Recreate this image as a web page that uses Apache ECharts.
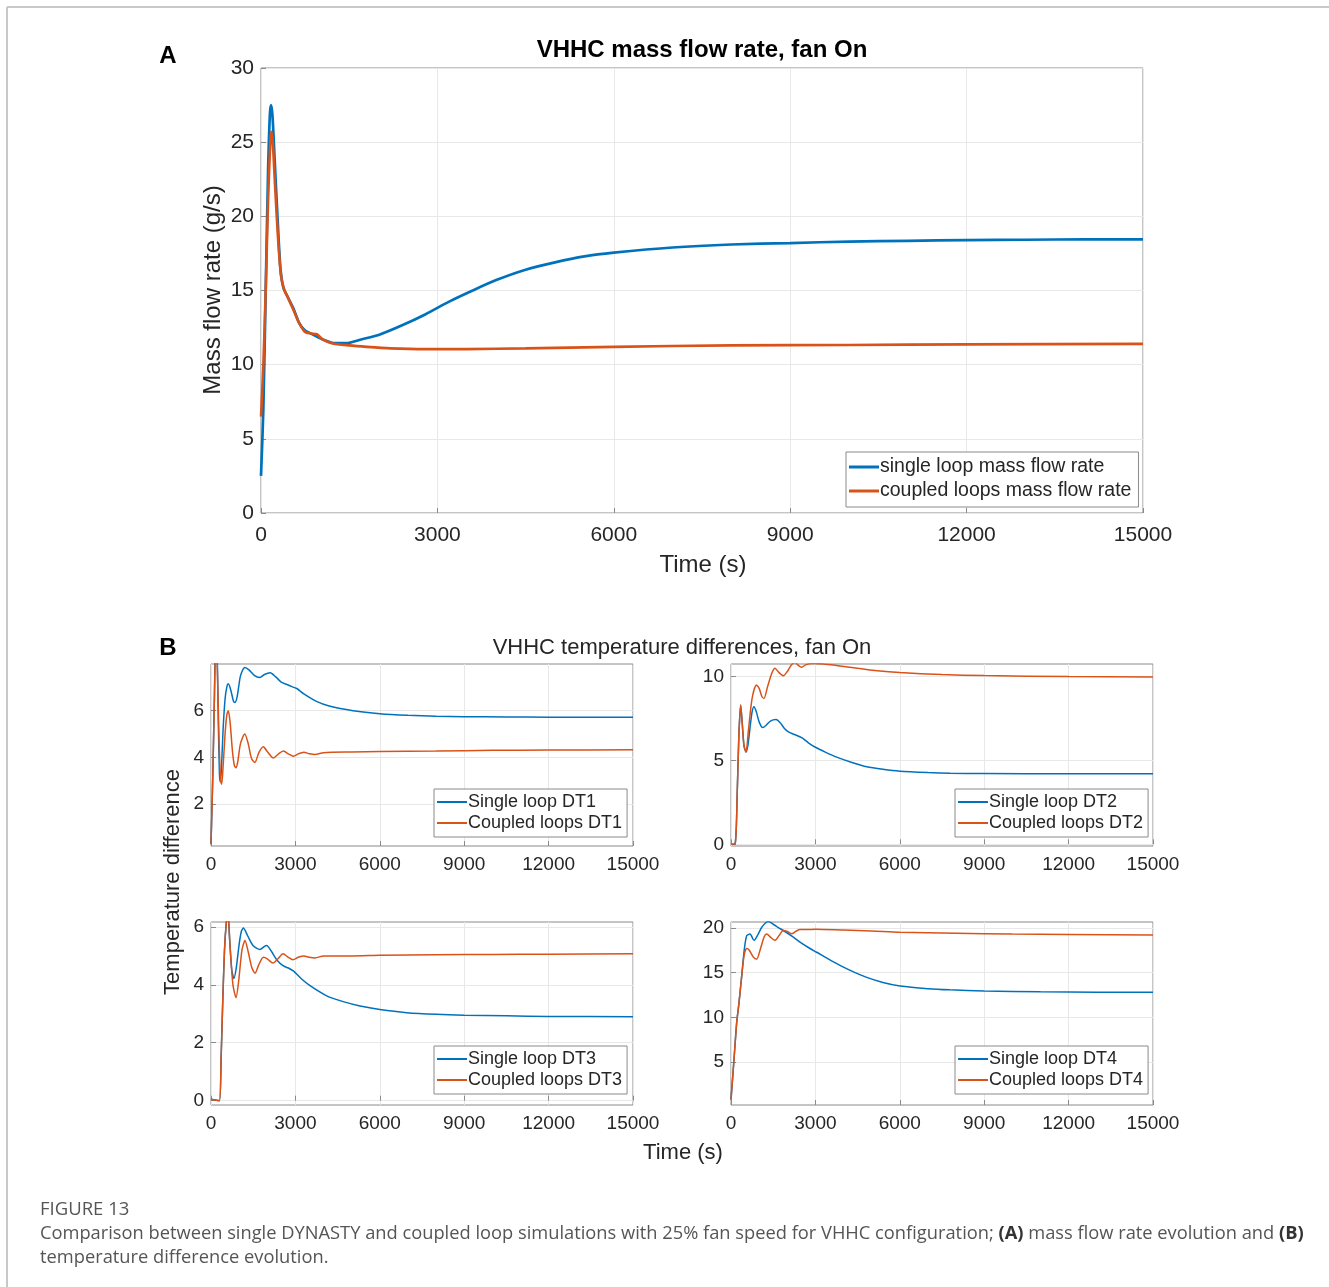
<!DOCTYPE html>
<html>
<head>
<meta charset="utf-8">
<script src="https://cdn.jsdelivr.net/npm/echarts@6/dist/echarts.min.js"></script>
<style>
html,body{margin:0;padding:0;background:#fff;}
#chart{width:1329px;height:1287px;}
</style>
</head>
<body>
<div id="chart"></div>
<script>
// ---------------- DATA ----------------
const timeTicks = [0, 3000, 6000, 9000, 12000, 15000];

// (A) mass flow rate [time (s), g/s]
const massSingle = [[0,2.5],[40,7],[80,15],[120,23],[150,26.8],[170,27.5],[195,26.8],[230,24],[280,20],[330,16.5],[380,15.2],[450,14.6],[550,13.8],[650,12.8],[750,12.3],[900,12.0],[1050,11.7],[1250,11.45],[1450,11.45],[1700,11.7],[2000,12.0],[2400,12.65],[2800,13.4],[3200,14.25],[3600,15.0],[4000,15.7],[4500,16.4],[5000,16.9],[5500,17.3],[6000,17.55],[7000,17.9],[8000,18.1],[9000,18.2],[10000,18.3],[11000,18.35],[12000,18.4],[13000,18.42],[14000,18.45],[15000,18.45]];
const massCoupled = [[0,6.5],[40,10],[80,15],[120,21],[160,25.2],[178,25.7],[200,25],[240,22],[290,18.5],[340,16],[390,15.1],[460,14.5],[550,13.7],[650,12.8],[750,12.2],[850,12.1],[950,12.05],[1050,11.7],[1200,11.45],[1500,11.3],[1800,11.2],[2200,11.1],[2800,11.05],[3500,11.05],[4500,11.1],[6000,11.2],[8000,11.3],[10000,11.33],[12000,11.37],[15000,11.4]];

// (B) temperature differences [time (s), value]
const dt1Single = [[0,0.3],[60,3],[120,6.5],[170,9.5],[220,8.5],[260,5.5],[300,3.3],[330,2.95],[370,3.5],[430,5.2],[500,6.5],[560,7.0],[615,7.15],[700,6.9],[800,6.4],[850,6.35],[930,6.6],[1050,7.5],[1200,7.85],[1350,7.75],[1550,7.5],[1725,7.42],[1900,7.55],[2100,7.62],[2300,7.45],[2500,7.22],[2700,7.12],[2900,7.02],[3050,6.95],[3300,6.72],[3750,6.4],[4200,6.2],[5050,6.0],[6000,5.87],[7000,5.8],[8000,5.76],[9000,5.74],[10500,5.73],[12000,5.72],[15000,5.72]];
const dt1Coupled = [[0,0.3],[60,3],[120,6.5],[170,9],[220,8],[280,5],[340,3],[380,2.85],[430,3.6],[500,5],[560,5.8],[615,6.0],[680,5.5],[760,4.3],[830,3.65],[885,3.55],[950,3.8],[1050,4.6],[1200,5.0],[1320,4.6],[1440,3.95],[1560,3.78],[1700,4.2],[1860,4.45],[2000,4.25],[2220,3.97],[2400,4.15],[2580,4.27],[2750,4.15],[2930,4.05],[3100,4.15],[3300,4.22],[3500,4.15],[3700,4.12],[4000,4.2],[5000,4.23],[6000,4.25],[8000,4.27],[10000,4.3],[12000,4.31],[15000,4.32]];

const dt2Single = [[0,0],[150,0.05],[220,3],[280,6.5],[344,8.3],[400,7.2],[460,5.9],[533,5.5],[600,5.9],[680,7.0],[750,7.9],[818,8.2],[900,7.9],[1000,7.3],[1126,6.96],[1250,7.1],[1400,7.35],[1600,7.44],[1750,7.25],[1900,6.9],[2040,6.7],[2250,6.55],[2512,6.36],[2750,6.05],[2986,5.8],[3350,5.5],[3757,5.2],[4300,4.88],[4824,4.62],[5400,4.47],[6000,4.36],[7000,4.28],[7785,4.24],[9000,4.22],[12000,4.2],[15000,4.2]];
const dt2Coupled = [[0,0],[150,0.05],[220,3],[280,6.5],[344,8.3],[400,7.2],[460,5.9],[533,5.5],[620,6.8],[750,8.7],[902,9.5],[1000,9.3],[1100,8.8],[1173,8.7],[1300,9.4],[1450,10.2],[1564,10.5],[1700,10.25],[1860,10.05],[2000,10.3],[2150,10.7],[2275,10.84],[2400,10.65],[2512,10.55],[2650,10.7],[2900,10.78],[3300,10.75],[3800,10.65],[4500,10.5],[5200,10.35],[6000,10.24],[7500,10.12],[9000,10.06],[12000,10.0],[15000,9.98]];

const dt3Single = [[0,0.05],[150,0.02],[300,0],[360,1.5],[420,3.5],[480,5.2],[540,6.1],[600,6.5],[660,5.6],[740,4.5],[818,4.22],[900,4.6],[1000,5.4],[1080,5.85],[1150,5.96],[1300,5.7],[1500,5.35],[1742,5.22],[1900,5.33],[1980,5.36],[2150,5.15],[2350,4.85],[2560,4.66],[2750,4.58],[2926,4.48],[3200,4.22],[3520,3.97],[4113,3.62],[4700,3.42],[5298,3.27],[6000,3.15],[6956,3.04],[8000,2.98],[9000,2.95],[10500,2.93],[12000,2.91],[15000,2.9]];
const dt3Coupled = [[0,0.05],[150,0.02],[300,0],[360,1.5],[420,3.5],[480,5.2],[540,6.1],[600,6.5],[680,5.3],[780,4.0],[889,3.56],[980,4.1],[1100,5.2],[1209,5.53],[1320,5.15],[1450,4.6],[1564,4.4],[1700,4.7],[1860,4.95],[2000,4.9],[2200,4.75],[2380,4.9],[2560,5.07],[2750,4.95],[2915,4.87],[3100,4.95],[3300,5.0],[3500,4.95],[3700,4.93],[4000,5.0],[5000,5.0],[6000,5.02],[8000,5.04],[10000,5.05],[12000,5.06],[15000,5.07]];

const dt4Single = [[0,0.8],[100,5],[202,9.4],[280,11.5],[380,14.6],[470,17.5],[557,19.1],[675,19.3],[818,18.6],[950,19.2],[1100,20.1],[1327,20.7],[1500,20.4],[1700,20.0],[1860,19.7],[2150,19.1],[2453,18.4],[2750,17.8],[3046,17.27],[3640,16.2],[4200,15.3],[4825,14.46],[5400,13.9],[6010,13.5],[7000,13.2],[7785,13.07],[9000,12.95],[11000,12.85],[13000,12.8],[15000,12.8]];
const dt4Coupled = [[0,0.8],[100,5],[202,9.4],[280,11.5],[380,14.6],[470,17],[557,17.7],[650,17.5],[800,16.7],[913,16.5],[1050,17.7],[1180,19.0],[1270,19.3],[1420,18.9],[1564,18.6],[1700,19.1],[1860,19.7],[2000,19.6],[2157,19.35],[2300,19.6],[2453,19.8],[2700,19.8],[3000,19.85],[4000,19.75],[5000,19.65],[6000,19.5],[8000,19.4],[10000,19.3],[12000,19.25],[15000,19.2]];

// y tick labels of the four panels
const dt1Ticks = [2, 4, 6];
const dt2Ticks = [0, 5, 10];
const dt3Ticks = [0, 2, 4, 6];
const dt4Ticks = [5, 10, 15, 20];

// ---------------- CHART ----------------
const BLUE = '#0072BD', ORANGE = '#D95319';
const FONT = '"Liberation Sans", Arial, sans-serif';
const CAPFONT = '"Open Sans", sans-serif';
const chart = echarts.init(document.getElementById('chart'), null, {renderer: 'canvas'});

const gridBase = {show: true, borderColor: '#8a8a8a', borderWidth: 1, backgroundColor: '#fff'};
const grids = [
  Object.assign({left: 261, top: 68, width: 882, height: 445}, gridBase),
  Object.assign({left: 211, top: 664, width: 422, height: 182}, gridBase),
  Object.assign({left: 731, top: 664, width: 422, height: 182}, gridBase),
  Object.assign({left: 211, top: 922, width: 422, height: 183}, gridBase),
  Object.assign({left: 731, top: 922, width: 422, height: 183}, gridBase)
];

const plain = v => String(v);

function xAx(i, fs, margin) {
  return {
    type: 'value', gridIndex: i, min: 0, max: 15000, interval: 3000,
    axisLine: {show: false},
    axisTick: {show: true, inside: true, length: 5, lineStyle: {color: '#8a8a8a'}},
    axisLabel: {fontSize: fs, color: '#262626', fontFamily: FONT, margin: margin, formatter: plain},
    splitLine: {show: true, lineStyle: {color: '#e8e8e8', width: 1}}
  };
}
function yAx(i, min, max, ticks, fs) {
  const ax = {
    type: 'value', gridIndex: i, min: min, max: max,
    axisLine: {show: false},
    axisTick: {show: true, inside: true, length: 5, lineStyle: {color: '#8a8a8a'}},
    axisLabel: {fontSize: fs, color: '#262626', fontFamily: FONT, margin: 7, formatter: plain},
    splitLine: {show: true, lineStyle: {color: '#e8e8e8', width: 1}}
  };
  if (ticks) {
    ax.axisTick.customValues = ticks;
    ax.axisLabel.customValues = ticks;
  } else {
    ax.interval = 5;
  }
  return ax;
}

function line(name, data, color, width, idx) {
  return {
    name: name, type: 'line', data: data, xAxisIndex: idx, yAxisIndex: idx,
    showSymbol: false, symbol: 'none', clip: true, smooth: 0.25,
    lineStyle: {color: color, width: width}, itemStyle: {color: color},
    emphasis: {disabled: true}, animation: false
  };
}

function legend(names, left, top, fs, ih, gap, pad) {
  return {
    data: names, left: left, top: top, orient: 'vertical',
    icon: 'rect', itemWidth: 30, itemHeight: ih, itemGap: gap,
    padding: pad,
    borderColor: '#8a8a8a', borderWidth: 1, backgroundColor: '#fff',
    textStyle: {fontSize: fs, color: '#262626', fontFamily: FONT, padding: [0, 0, 0, -4]},
    selectedMode: false
  };
}

function txt(x, y, s, fs, weight, fill, rot) {
  const o = {
    type: 'text', x: x, y: y,
    style: {text: s, fontSize: fs, fontWeight: weight || 'normal', fontFamily: FONT,
            fill: fill || '#262626', textAlign: 'center', textVerticalAlign: 'middle'}
  };
  if (rot) o.rotation = rot;
  return o;
}

const option = {
  animation: false,
  backgroundColor: '#fff',
  grid: grids,
  xAxis: [xAx(0, 21, 12), xAx(1, 19, 9), xAx(2, 19, 9), xAx(3, 19, 9), xAx(4, 19, 9)],
  yAxis: [
    yAx(0, 0, 30, null, 21),
    yAx(1, 0.2, 8, dt1Ticks, 19),
    yAx(2, -0.1, 10.75, dt2Ticks, 19),
    yAx(3, -0.15, 6.17, dt3Ticks, 19),
    yAx(4, 0.2, 20.65, dt4Ticks, 19)
  ],
  legend: [
    legend(['single loop mass flow rate', 'coupled loops mass flow rate'], 846, 452, 19.5, 3, 4, [5, 7, 6, 3]),
    legend(['Single loop DT1', 'Coupled loops DT1'], 434, 789, 18, 2, 3, [4, 5, 5, 3]),
    legend(['Single loop DT2', 'Coupled loops DT2'], 955, 789, 18, 2, 3, [4, 5, 5, 3]),
    legend(['Single loop DT3', 'Coupled loops DT3'], 434, 1046, 18, 2, 3, [4, 5, 5, 3]),
    legend(['Single loop DT4', 'Coupled loops DT4'], 955, 1046, 18, 2, 3, [4, 5, 5, 3])
  ],
  series: [
    line('single loop mass flow rate', massSingle, BLUE, 2.7, 0),
    line('coupled loops mass flow rate', massCoupled, ORANGE, 2.6, 0),
    line('Single loop DT1', dt1Single, BLUE, 1.5, 1),
    line('Coupled loops DT1', dt1Coupled, ORANGE, 1.5, 1),
    line('Single loop DT2', dt2Single, BLUE, 1.5, 2),
    line('Coupled loops DT2', dt2Coupled, ORANGE, 1.5, 2),
    line('Single loop DT3', dt3Single, BLUE, 1.5, 3),
    line('Coupled loops DT3', dt3Coupled, ORANGE, 1.5, 3),
    line('Single loop DT4', dt4Single, BLUE, 1.5, 4),
    line('Coupled loops DT4', dt4Coupled, ORANGE, 1.5, 4)
  ],
  graphic: [
    {type: 'line', shape: {x1: 7, y1: 7, x2: 1329, y2: 7}, style: {stroke: '#c8c8c8', lineWidth: 2}},
    {type: 'line', shape: {x1: 7, y1: 7, x2: 7, y2: 1287}, style: {stroke: '#c8c8c8', lineWidth: 2}},
    txt(168, 56, 'A', 24, 'bold', '#000'),
    txt(702, 50, 'VHHC mass flow rate, fan On', 24, 'bold', '#000'),
    txt(703, 565, 'Time (s)', 24),
    txt(213, 290, 'Mass flow rate (g/s)', 24, 'normal', '#262626', Math.PI / 2),
    txt(168, 648, 'B', 24, 'bold', '#000'),
    txt(682, 648, 'VHHC temperature differences, fan On', 22),
    txt(683, 1153, 'Time (s)', 22),
    txt(173, 882, 'Temperature difference', 22, 'normal', '#262626', Math.PI / 2),
    {type: 'text', x: 40, y: 1210,
     style: {text: 'FIGURE 13', fontSize: 18.5, fontFamily: CAPFONT, fill: '#555', textAlign: 'left', textVerticalAlign: 'middle'}},
    {type: 'text', x: 40, y: 1246,
     style: {
       text: 'Comparison between single DYNASTY and coupled loop simulations with 25% fan speed for VHHC configuration; {b|(A)} mass flow rate evolution and {b|(B)}\ntemperature difference evolution.',
       fontSize: 18.3, lineHeight: 24, fontFamily: CAPFONT, fill: '#555', textAlign: 'left', textVerticalAlign: 'middle',
       rich: {b: {fontWeight: 'bold', fontSize: 18.3, fontFamily: CAPFONT, fill: '#333'}}
     }}
  ]
};
chart.setOption(option);
</script>
</body>
</html>
